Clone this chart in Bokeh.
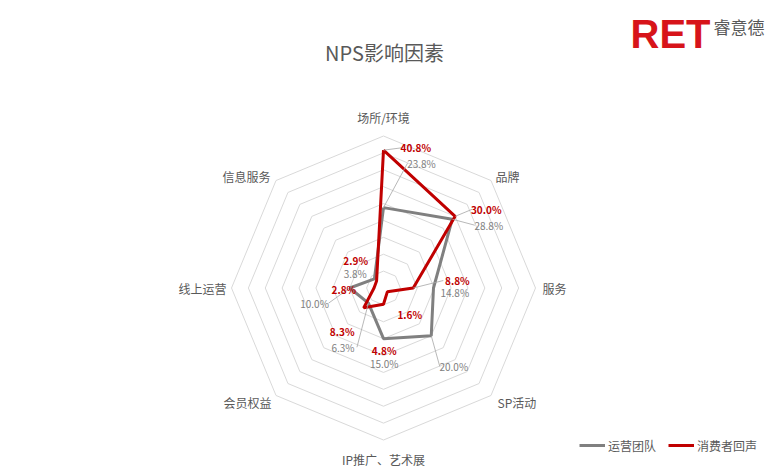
import numpy as np
from bokeh.plotting import figure
from bokeh.models import Range1d, ColumnDataSource, Label, Legend, LegendItem
from bokeh.embed import file_html
from bokeh.resources import INLINE
from bokeh.core.properties import value, field

# ---------------- data ----------------
categories = ["场所/环境", "品牌", "服务", "SP活动", "IP推广、艺术展", "会员权益", "线上运营", "信息服务"]
team_values = [23.8, 28.8, 14.8, 20.0, 15.0, 6.3, 10.0, 3.8]
consumer_values = [40.8, 30.0, 8.8, 1.6, 4.8, 8.3, 2.8, 2.9]
series_names = ["运营团队", "消费者回声"]
ring_values = [5, 10, 15, 20, 25, 30, 35, 40, 45]
title_text = "NPS影响因素"
logo_text = "RET"
logo_cn = "睿意德"

# ---------------- layout / style ----------------
W, H = 768, 469
CX, CY = 383.0, 287.5          # radar centre, px from top-left of frame
R_MAX = ring_values[-1]
S = 152.0 / R_MAX              # px per percent
FONT = "Noto Sans CJK SC"
GREY = "#808080"
RED = "#c00000"
TEXT = "#595959"
GRIDC = "#d9d9d9"
LEADER = "#a6a6a6"

# label offsets (px, x right / y down) relative to the data point
team_label_off = [(38, -44.4), (36.5, 6), (21.3, 4.8), (22.5, 30.7), (0.7, 24.5), (-25.5, 44.2), (-35.2, 15.2), (-19.2, -5.1)]
cons_label_off = [(32.3, -2.4), (31.1, -7.1), (44.1, -7.5), (22.4, 23), (0.7, 46.3), (-21.5, 23.4), (-30.2, 1.8), (-20.9, -20.6)]
team_leader = [1, 1, 0, 1, 0, 1, 1, 0]
cons_leader = [1, 1, 1, 0, 0, 0, 0, 0]
# category label offsets (px) relative to the outer vertex, and alignment
cat_off = [(0, -18.5), (4.5, -4), (7, 0), (6.5, 7), (0, 19.5), (-4.5, 7), (-5, 0), (-5.5, -4)]
cat_align = ["center", "left", "left", "left", "center", "right", "right", "right"]

p = figure(width=W, height=H,
           x_range=Range1d(-CX / S, (W - CX) / S),
           y_range=Range1d(-(H - CY) / S, CY / S),
           output_backend="svg", toolbar_location=None,
           x_axis_location=None, y_axis_location=None,
           min_border=0, outline_line_color=None)
p.grid.visible = False
p.background_fill_color = "white"

n = len(categories)
theta = np.pi / 2 - np.arange(n) * 2 * np.pi / n
cos_t, sin_t = np.cos(theta), np.sin(theta)

# grid rings
rx = [list(r * np.append(cos_t, cos_t[0])) for r in ring_values]
ry = [list(r * np.append(sin_t, sin_t[0])) for r in ring_values]
p.multi_line(rx, ry, line_color=GRIDC, line_width=1)


def closed_xy(vals):
    v = np.array(vals, dtype=float)
    x, y = v * cos_t, v * sin_t
    return list(np.append(x, x[0])), list(np.append(y, y[0]))


tx, ty = closed_xy(team_values)
cxs, cys = closed_xy(consumer_values)
r_team = p.line(tx, ty, line_color=GREY, line_width=3)
r_cons = p.line(cxs, cys, line_color=RED, line_width=3)


def add_labels(vals, offs, leaders, color, weight):
    v = np.array(vals, dtype=float)
    px, py = v * cos_t, v * sin_t
    lx = [px[i] + offs[i][0] / S for i in range(n)]
    ly = [py[i] - offs[i][1] / S for i in range(n)]
    segx, segy = [], []
    hw = 14.0
    for i in range(n):
        if not leaders[i]:
            continue
        dx, dy = offs[i]
        if abs(dx) > hw:
            ex = lx[i] - np.sign(dx) * hw / S
            ey = ly[i]
        else:
            ex = lx[i]
            ey = ly[i] + np.sign(dy) * 6 / S
        segx.append([px[i], ex])
        segy.append([py[i], ey])
    if segx:
        p.multi_line(segx, segy, line_color=LEADER, line_width=0.8)
    src = ColumnDataSource(dict(x=lx, y=ly, t=[f"{a:.1f}%" for a in vals]))
    p.text("x", "y", text="t", source=src, text_align="center", text_baseline="middle",
           text_font=value(FONT), text_font_size="10px", text_color=color,
           text_font_style=weight)


add_labels(team_values, team_label_off, team_leader, GREY, "normal")
add_labels(consumer_values, cons_label_off, cons_leader, RED, "bold")

# category labels
vx, vy = R_MAX * cos_t, R_MAX * sin_t
cat_src = ColumnDataSource(dict(
    x=[vx[i] + cat_off[i][0] / S for i in range(n)],
    y=[vy[i] - cat_off[i][1] / S for i in range(n)],
    t=categories, a=cat_align))
p.text("x", "y", text="t", source=cat_src, text_align=field("a"), text_baseline="middle",
       text_font=value(FONT), text_font_size="12px", text_color=TEXT)

# title
p.add_layout(Label(x=384, y=H - 52, x_units="screen", y_units="screen", text=title_text,
                   text_align="center", text_baseline="middle", text_font=FONT,
                   text_font_size="20px", text_color=TEXT))
# logo
p.add_layout(Label(x=630, y=H - 33, x_units="screen", y_units="screen", text=logo_text,
                   text_align="left", text_baseline="alphabetic", text_font="Liberation Sans",
                   text_font_style="bold", text_font_size="40px", text_color="#d7141a"))
p.add_layout(Label(x=713, y=H - 25.5, x_units="screen", y_units="screen", text=logo_cn,
                   text_align="left", text_baseline="middle", text_font=FONT,
                   text_font_size="17px", text_color=TEXT))

# legend
legend = Legend(items=[LegendItem(label=series_names[0], renderers=[r_team]),
                       LegendItem(label=series_names[1], renderers=[r_cons])],
                orientation="horizontal", location=(579, 14),
                glyph_width=26, glyph_height=20, label_standoff=3, spacing=12,
                padding=0, margin=0, border_line_color=None, background_fill_alpha=0,
                label_text_font=FONT, label_text_font_size="12px", label_text_color=TEXT)
p.add_layout(legend)

open("out.html", "w").write(file_html(p, INLINE))
